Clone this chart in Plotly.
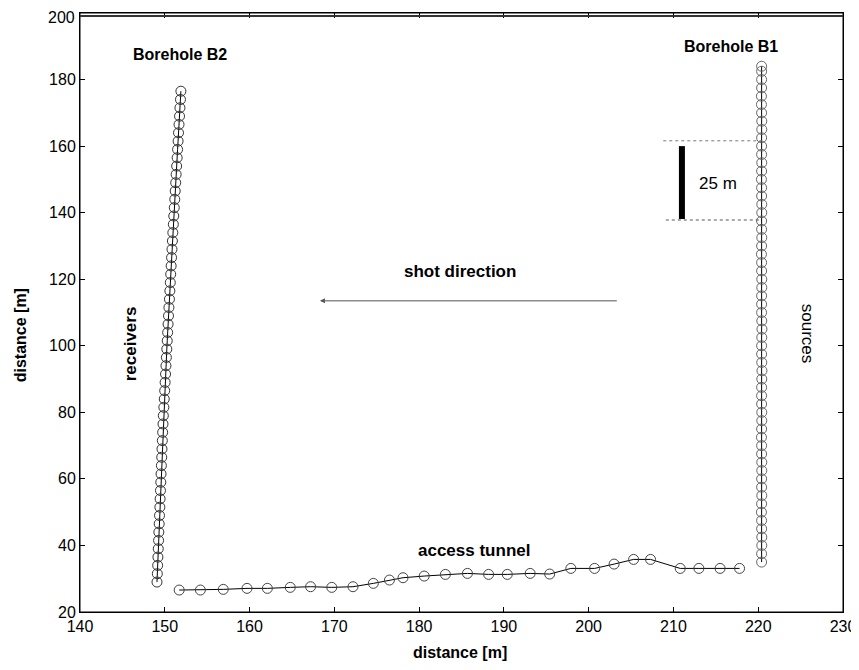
import plotly.graph_objects as go

# Borehole B2 (receivers)
b2_x = [149.08, 149.12, 149.16, 149.19, 149.23, 149.27, 149.30, 149.34, 149.38, 149.42,
        149.45, 149.49, 149.53, 149.56, 149.60, 149.64, 149.67, 149.71, 149.75, 149.79,
        149.83, 149.89, 149.94, 149.99, 150.04, 150.09, 150.14, 150.19, 150.24, 150.29,
        150.34, 150.39, 150.44, 150.49, 150.55, 150.60, 150.65, 150.70, 150.75, 150.80,
        150.85, 150.90, 150.95, 151.01, 151.06, 151.12, 151.18, 151.23, 151.29, 151.34,
        151.40, 151.46, 151.51, 151.57, 151.62, 151.68, 151.74, 151.79, 151.85, 151.90]
b2_y = [29.0, 31.5, 34.0, 36.5, 39.0, 41.5, 44.0, 46.5, 49.0, 51.5,
        54.0, 56.5, 59.0, 61.5, 64.0, 66.5, 69.0, 71.5, 74.0, 76.5,
        79.0, 81.5, 84.0, 86.5, 89.0, 91.5, 94.0, 96.5, 99.0, 101.5,
        104.0, 106.5, 109.0, 111.5, 114.0, 116.5, 119.0, 121.5, 124.0, 126.5,
        129.0, 131.5, 134.0, 136.5, 139.0, 141.5, 144.0, 146.5, 149.0, 151.5,
        154.0, 156.5, 159.0, 161.5, 164.0, 166.5, 169.0, 171.5, 174.0, 176.5]

# Borehole B1 (sources)
b1_x = [220.40, 220.40, 220.42, 220.42, 220.40, 220.40, 220.38, 220.40, 220.42, 220.40,
        220.40, 220.42, 220.42, 220.40, 220.40, 220.38, 220.40, 220.42, 220.42, 220.40,
        220.40, 220.40, 220.42, 220.44, 220.42, 220.40, 220.40, 220.42, 220.44, 220.42,
        220.40, 220.40, 220.40, 220.42, 220.42, 220.40, 220.40, 220.38, 220.40, 220.42,
        220.40, 220.40, 220.42, 220.42, 220.40, 220.40, 220.38, 220.40, 220.42, 220.40,
        220.40, 220.40, 220.42, 220.42, 220.40, 220.38, 220.38, 220.40, 220.40, 220.40,
        220.40]
b1_y = [35.0, 37.5, 40.0, 42.5, 45.0, 47.5, 50.0, 52.5, 55.0, 57.5,
        60.0, 62.5, 65.0, 67.5, 70.0, 72.5, 75.0, 77.5, 80.0, 82.5,
        85.0, 87.5, 90.0, 92.5, 95.0, 97.5, 100.0, 102.5, 105.0, 107.5,
        110.0, 112.5, 115.0, 117.5, 120.0, 122.5, 125.0, 127.5, 130.0, 132.5,
        135.0, 137.5, 140.0, 142.5, 145.0, 147.5, 150.0, 152.5, 155.0, 157.5,
        160.0, 162.5, 165.0, 167.5, 170.0, 172.5, 175.0, 177.5, 180.0, 182.5,
        184.0]

# Access tunnel
tunnel_x = [151.7, 154.2, 156.9, 159.7, 162.1, 164.8, 167.2, 169.7, 172.2, 174.6,
            176.5, 178.1, 180.6, 183.1, 185.7, 188.2, 190.4, 193.1, 195.4, 197.9,
            200.7, 203.0, 205.3, 207.3, 210.8, 213.0, 215.5, 217.8]
tunnel_y = [26.6, 26.6, 26.8, 27.1, 27.1, 27.4, 27.6, 27.4, 27.6, 28.6,
            29.6, 30.3, 30.8, 31.3, 31.6, 31.3, 31.3, 31.6, 31.4, 33.1,
            33.1, 34.4, 35.8, 35.8, 33.1, 33.1, 33.1, 33.1]

x_ticks = [140, 150, 160, 170, 180, 190, 200, 210, 220, 230]
y_ticks = [20, 40, 60, 80, 100, 120, 140, 160, 180, 200]

FONT = "Liberation Sans, Arial, sans-serif"

fig = go.Figure()

def add_series(xs, ys, mcolor):
    fig.add_trace(go.Scatter(
        x=xs, y=ys, mode="lines+markers",
        line=dict(color="black", width=1),
        marker=dict(symbol="circle-open", size=10, color=mcolor, line=dict(width=1, color=mcolor)),
        showlegend=False, hoverinfo="skip"))

add_series(b2_x, b2_y, "#333333")
add_series(b1_x, b1_y, "#666666")
add_series(tunnel_x, tunnel_y, "#444444")

# plot frame (box) plus a reinforced top edge
fig.add_shape(type="rect", xref="paper", yref="paper", x0=0, x1=1, y0=0, y1=1,
              line=dict(color="black", width=1), layer="above")
fig.add_shape(type="line", xref="paper", yref="paper", x0=0, x1=1, y0=0.995, y1=0.995,
              line=dict(color="#333333", width=2), layer="above")

# scale bar and dotted guide lines
fig.add_shape(type="line", x0=208.8, x1=220.4, y0=161.6, y1=161.6,
              line=dict(color="#777777", width=1, dash="dot"))
fig.add_shape(type="line", x0=209.1, x1=220.4, y0=137.8, y1=137.8,
              line=dict(color="#555555", width=1, dash="dot"))
fig.add_shape(type="line", x0=211.0, x1=211.0, y0=138.1, y1=160.0,
              line=dict(color="black", width=6))

# shot direction arrow
fig.add_annotation(x=168.3, y=113.5, ax=203.5, ay=113.5, axref="x", ayref="y",
                   xref="x", yref="y", text="", showarrow=True,
                   arrowhead=2, arrowsize=1, arrowwidth=1, arrowcolor="#555555")

def label(text, x, y, bold=True, angle=0, size=17):
    fig.add_annotation(x=x, y=y, xref="x", yref="y", showarrow=False,
                       xanchor="center", yanchor="middle",
                       text=f"<b>{text}</b>" if bold else text, textangle=angle,
                       font=dict(family=FONT, size=size, color="black"))

label("Borehole B2", 151.8, 187.4, size=16)
label("Borehole B1", 216.8, 189.8, size=16)
label("shot direction", 184.8, 122.2)
label("access tunnel", 186.5, 38.6)
label("25 m", 215.2, 148.9, bold=False, size=17)
label("receivers", 146.0, 100.7, angle=-90)
label("sources", 225.8, 103.5, bold=False, angle=90, size=17)

# axis titles
fig.add_annotation(x=0.498, y=-0.0684, xref="paper", yref="paper", showarrow=False,
                   xanchor="center", yanchor="middle",
                   text="<b>distance [m]</b>", font=dict(family=FONT, size=16, color="black"))
fig.add_annotation(x=-0.0786, y=0.462, xref="paper", yref="paper", showarrow=False,
                   xanchor="center", yanchor="middle",
                   text="<b>distance [m]</b>", textangle=-90,
                   font=dict(family=FONT, size=16, color="black"))

# top y tick label placed as annotation so it is not clipped by the page edge
fig.add_annotation(x=0, y=1, xref="paper", yref="paper", showarrow=False,
                   xanchor="right", yanchor="top", xshift=-3, yshift=6,
                   text=str(y_ticks[-1]), font=dict(family=FONT, size=16, color="black"))

axis_common = dict(showgrid=False, zeroline=False, showline=True, linecolor="black",
                   linewidth=1, mirror="ticks", ticks="inside", ticklen=5,
                   tickcolor="black", automargin=False, ticklabeloverflow="allow",
                   tickfont=dict(family=FONT, size=16, color="black"))

fig.update_xaxes(range=[140, 230], tickvals=x_ticks, ticktext=[str(v) for v in x_ticks],
                 **axis_common)
fig.update_yaxes(range=[20, 200], tickvals=y_ticks,
                 ticktext=[str(v) for v in y_ticks[:-1]] + [""],
                 **axis_common)

# page body adds an 8px offset; size the figure so the plot area lands where the reference has it
fig.update_layout(width=851, height=654, margin=dict(l=72, r=16, t=5, b=50, autoexpand=False),
                  plot_bgcolor="white", paper_bgcolor="white",
                  font=dict(family=FONT, color="black"))

fig.write_html("out.html", config={"displayModeBar": False})
